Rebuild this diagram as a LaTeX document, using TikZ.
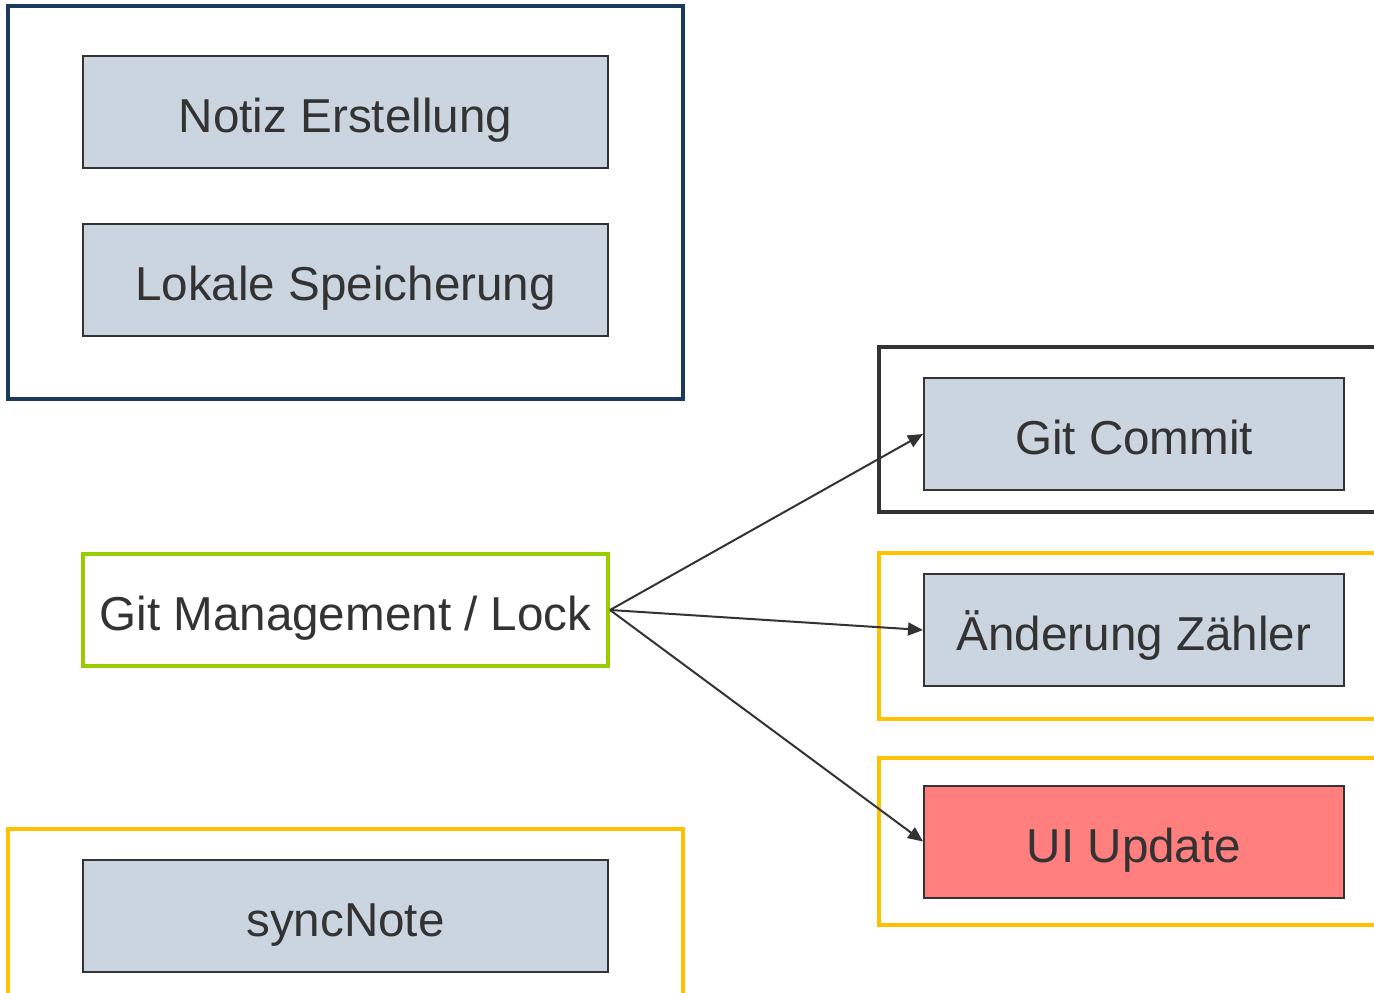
\documentclass[tikz,border=0pt]{standalone}
\usepackage{fontspec}
\setmainfont{Liberation Sans}
\usetikzlibrary{arrows.meta}
\definecolor{ink}{HTML}{333333}
\definecolor{navy}{HTML}{1B3A5C}
\definecolor{boxfill}{HTML}{CBD5DF}
\definecolor{amber}{HTML}{FFC000}
\definecolor{lime}{HTML}{99CC00}
\definecolor{salmon}{HTML}{FF7F7F}
\begin{document}
\begin{tikzpicture}[x=1pt,y=-1pt,
  task/.style={draw=ink, line width=2pt, fill=boxfill, minimum height=112pt,
    inner sep=0pt, text=ink, text height=41pt, text depth=0pt,
    font=\fontsize{47.6}{56}\selectfont},
  wide/.style={minimum width=525pt},
  narrow/.style={minimum width=420pt},
  frame/.style={line width=4.5pt},
  link/.style={draw=ink, line width=2pt, -{Triangle[length=15pt,width=13pt]}}]
\useasboundingbox (0,0) rectangle (1374,993);
\begin{scope}
  \clip (0,0) rectangle (1374,993);
  % group frames
  \draw[frame, draw=navy] (8,6) rectangle (683,399);
  \draw[frame, draw=ink, line width=3.5pt] (879,347) rectangle (1400,512);
  \draw[frame, draw=amber] (879,553) rectangle (1400,719);
  \draw[frame, draw=amber] (879,758) rectangle (1400,925);
  \draw[frame, draw=amber] (8,829) rectangle (683,1020);

  % process steps
  \node[task, wide] (notiz) at (345.5,112) {Notiz Erstellung};
  \node[task, wide] (lokal) at (345.5,280) {Lokale Speicherung};
  \node[task, wide, draw=lime, line width=4pt, fill=white] (git) at (345.5,610) {Git Management / Lock};
  \node[task, wide] (sync) at (345.5,916) {syncNote};
  \node[task, narrow] (commit) at (1134,434) {Git Commit};
  \node[task, narrow] (count) at (1134,630) {Änderung Zähler};
  \node[task, narrow, fill=salmon] (ui) at (1134,841.5) {UI Update};

  % connectors
  \draw[link] (git.east) -- (commit.west);
  \draw[link] (git.east) -- (count.west);
  \draw[link] (git.east) -- (ui.west);
\end{scope}
\end{tikzpicture}
\end{document}
